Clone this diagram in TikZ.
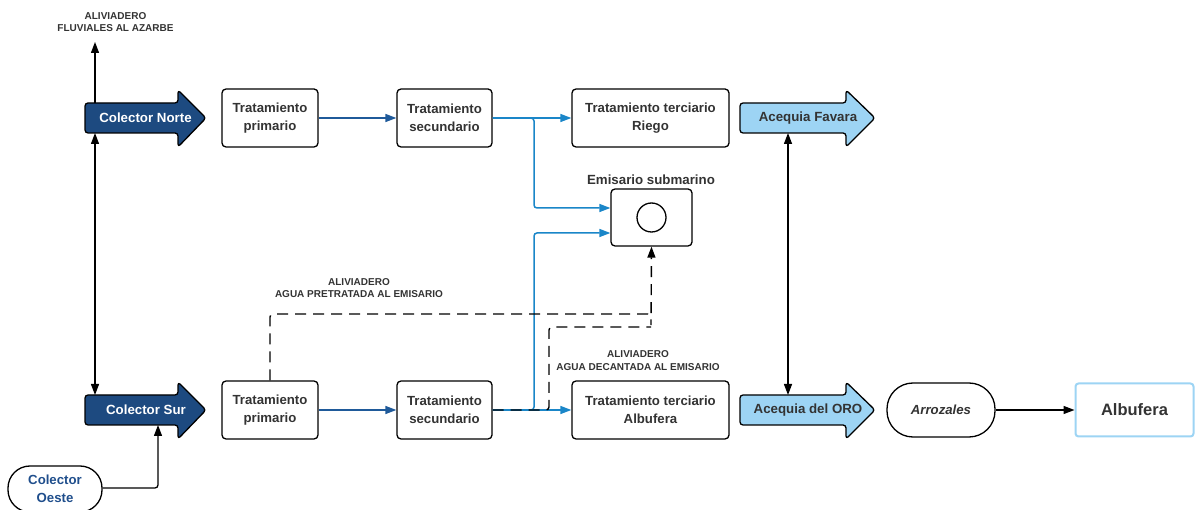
\documentclass[tikz,border=0pt]{standalone}
\usepackage{fontspec}
\setmainfont{Liberation Sans}
\usetikzlibrary{arrows.meta,calc}

\definecolor{navy}{HTML}{1D4A80}
\definecolor{sky}{HTML}{9DD4F4}
\definecolor{flow}{HTML}{1A86C8}
\definecolor{flowdark}{HTML}{1F5A9A}
\definecolor{ink}{HTML}{333333}
\definecolor{oestetext}{HTML}{1F4E8C}

\tikzset{
  box/.style={draw=black, line width=1.3pt, rounded corners=4pt, fill=white,
    align=center, text=ink, inner sep=0pt,
    font=\fontsize{13.2}{17.5}\selectfont\bfseries},
  pill/.style={box, rounded corners=22pt},
  bigflow/.style={draw=black, line width=1.3pt, rounded corners=3pt, line join=round},
  flowtext/.style={font=\fontsize{13.3}{16}\selectfont\bfseries, inner sep=0pt},
  note/.style={align=center, text=ink, inner sep=0pt,
    font=\fontsize{10}{12.5}\selectfont\bfseries},
  tri/.style={-{Triangle[length=11pt,width=8pt]}},
  bitri/.style={{Triangle[length=11pt,width=8pt]}-{Triangle[length=11pt,width=8pt]}},
  wire/.style={line width=1.3pt, draw=black, rounded corners=3pt},
  bluewire/.style={line width=1.5pt, draw=flow, rounded corners=3pt},
  darkwire/.style={line width=1.5pt, draw=flowdark},
  relief/.style={line width=1.4pt, draw=black, dash pattern=on 11pt off 7pt, rounded corners=3pt}
}

\begin{document}
\begin{tikzpicture}[x=1pt,y=-1pt]
\useasboundingbox (0,0) rectangle (1195,510);
\clip (0,0) rectangle (1195,510);

% ---- block arrows: collectors
\draw[bigflow, fill=navy] (85,103) -- (178,103) -- (178,90) -- (206,118) -- (178,147) -- (178,133) -- (85,133) -- cycle;
\node[flowtext, text=white] (cn) at (145.5,118) {Colector Norte};
\draw[bigflow, fill=navy] (85,395) -- (178,395) -- (178,382) -- (206,410) -- (178,439) -- (178,425) -- (85,425) -- cycle;
\node[flowtext, text=white] (cs) at (146,410) {Colector Sur};

% ---- block arrows: irrigation channels
\draw[bigflow, fill=sky] (740,103) -- (846,103) -- (846,90) -- (875,118) -- (846,147) -- (846,133) -- (740,133) -- cycle;
\node[flowtext, text=ink] (fav) at (808,118) {Acequia Favara};
\draw[bigflow, fill=sky] (740,395) -- (846,395) -- (846,382) -- (875,410) -- (846,439) -- (846,425) -- (740,425) -- cycle;
\node[flowtext, text=ink] (oro) at (808,410) {Acequia del ORO};

% anchor points on the block arrows
\coordinate (cnT) at (95,103);
\coordinate (cnB) at (95,133);
\coordinate (csT) at (95,395);
\coordinate (csB) at (158,425);
\coordinate (favB) at (788,133);
\coordinate (oroT) at (788,395);
\coordinate (azarbe) at (95,42);

% ---- treatment boxes
\node[box, minimum width=96pt, minimum height=58pt] (p1) at (270,118) {Tratamiento\\primario};
\node[box, minimum width=95pt, minimum height=58pt] (s1) at (444.5,118) {Tratamiento\\secundario};
\node[box, minimum width=157pt, minimum height=58pt] (t1) at (650.5,118) {Tratamiento terciario\\Riego};
\node[box, minimum width=96pt, minimum height=58pt] (p2) at (270,410) {Tratamiento\\primario};
\node[box, minimum width=95pt, minimum height=58pt] (s2) at (444.5,410) {Tratamiento\\secundario};
\node[box, minimum width=157pt, minimum height=58pt] (t2) at (650.5,410) {Tratamiento terciario\\Albufera};

% ---- submarine outfall
\node[box, minimum width=81pt, minimum height=57pt] (em) at (651.5,217.5) {};
\draw[line width=1.3pt] (em.center) circle (14.5pt);
\node[flowtext, text=ink] (emlbl) at (651,180) {Emisario submarino};

% ---- west collector, rice fields, lagoon
\node[pill, text=oestetext, minimum width=94pt, minimum height=46pt] (oeste) at (55,489) {Colector\\Oeste};
\node[pill, rounded corners=26pt, minimum width=108pt, minimum height=54pt,
  font=\fontsize{13.2}{16}\selectfont\bfseries\itshape] (arroz) at (941,410) {Arrozales};
\node[box, draw=sky, line width=2pt, rounded corners=3pt, minimum width=118pt, minimum height=53pt,
  font=\fontsize{16.5}{20}\selectfont\bfseries] (alb) at (1134.5,410) {Albufera};

% ---- labels
\node[note] (lblAz) at (115.5,22) {ALIVIADERO\\FLUVIALES AL AZARBE};
\node[note] (lblPre) at (359,288) {ALIVIADERO\\AGUA PRETRATADA AL EMISARIO};
\node[note] (lblDec) at (638,360.5) {ALIVIADERO\\AGUA DECANTADA AL EMISARIO};

% ---- black connectors
\draw[wire, tri] (cnT) -- (azarbe);
\draw[wire, bitri] (cnB) -- (csT);
\draw[wire, tri] (oeste.east |- 0,488) -- (158,488) -- (csB);
\draw[wire, bitri] (favB) -- (oroT);
\draw[wire, tri] (arroz.east) -- (alb.west);

% ---- treatment line flows
\draw[darkwire, tri] (p1.east) -- (s1.west);
\draw[darkwire, tri] (p2.east) -- (s2.west);
\draw[bluewire, tri] (s1.east) -- (t1.west);
\draw[bluewire, tri] (s1.east) -- (534,118) |- ($(em.west)+(0,-9.5)$);
\draw[bluewire, tri] (s2.east) -- (t2.west);
\draw[bluewire, tri] (s2.east) -- (534,410) |- ($(em.west)+(0,15.5)$);

% ---- overflow (dashed) lines to the outfall
\draw[relief, tri] (p2.north) -- (270,314) -- (651,314) -- (651,327) -- (em.south);
\draw[relief] (s2.east) -- (549,410) -- (549,327) -- (651,327);
\end{tikzpicture}
\end{document}
